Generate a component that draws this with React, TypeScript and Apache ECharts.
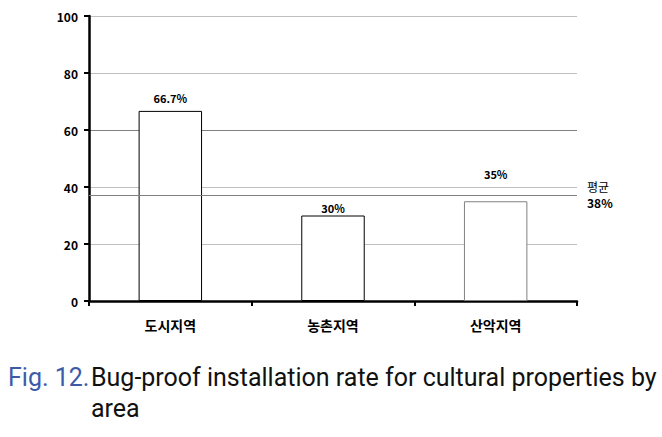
import React, { useEffect, useRef } from "react";
import * as echarts from "echarts";

const categories = ["도시지역", "농촌지역", "산악지역"];
const values = [66.7, 30, 35];
const valueLabels = ["66.7%", "30%", "35%"];
const labelDistances = [7, 2, 22];
const barBorderColors = ["#000000", "#000000", "#808080"];
const averageValue = 37.2;
const averageLabel = ["평균", "38%"];
const yTicks = [0, 20, 40, 60, 80, 100];
const captionPrefix = "Fig. 12.";
const captionLines = ["Bug-proof installation rate for cultural properties by", "area"];

export default function App() {
  const ref = useRef<HTMLDivElement>(null);
  useEffect(() => {
    if (!ref.current) return;
    const chart = echarts.init(ref.current, null, { renderer: "svg" });
    const font = "'Noto Sans CJK KR', 'Noto Sans', sans-serif";
    chart.setOption({
      animation: false,
      backgroundColor: "#ffffff",
      grid: { left: 89, right: 85, top: 16, bottom: 136 },
      xAxis: {
        type: "category",
        data: categories,
        axisLine: { lineStyle: { color: "#000", width: 2.5 } },
        axisTick: { show: true, length: 5, lineStyle: { color: "#000", width: 2 } },
        axisLabel: { color: "#000", fontSize: 14, fontWeight: "bold", fontFamily: font, margin: 17 },
      },
      yAxis: {
        type: "value",
        min: yTicks[0],
        max: yTicks[yTicks.length - 1],
        interval: 20,
        axisLine: { show: true, lineStyle: { color: "#000", width: 2.5 } },
        axisTick: { show: true, length: 5, lineStyle: { color: "#000", width: 2 } },
        axisLabel: { color: "#000", fontSize: 12, fontWeight: "bold", fontFamily: font, margin: 11 },
        splitLine: {
          lineStyle: {
            color: ["#c0c0c0", "#c0c0c0", "#c0c0c0", "#808080", "#c0c0c0", "#c0c0c0"],
            width: 1,
          },
        },
      },
      series: [
        {
          type: "bar",
          barCategoryGap: "61%",
          data: values.map((v, i) => ({
            value: v,
            itemStyle: { color: "#ffffff", borderColor: barBorderColors[i], borderWidth: 1 },
            label: {
              show: true,
              position: "top",
              distance: labelDistances[i],
              formatter: valueLabels[i],
              color: "#000",
              fontSize: 11,
              fontWeight: "bold",
              fontFamily: font,
            },
          })),
          markLine: {
            silent: true,
            symbol: "none",
            lineStyle: { color: "#808080", type: "solid", width: 1 },
            label: {
              show: true,
              position: "end",
              distance: 10,
              formatter: "{a|" + averageLabel[0] + "}\n{b|" + averageLabel[1] + "}",
              rich: {
                a: { fontSize: 12, color: "#000", fontFamily: font, lineHeight: 16 },
                b: { fontSize: 12, color: "#000", fontWeight: "bold", fontFamily: font, lineHeight: 16 },
              },
            },
            data: [{ yAxis: averageValue }],
          },
        },
      ],
      graphic: [
        {
          type: "text",
          left: 8,
          top: 362,
          style: {
            text: captionPrefix,
            fontSize: 25,
            lineHeight: 31,
            fill: "#3b5ba8",
            fontFamily: "Roboto, sans-serif",
          },
        },
        {
          type: "text",
          left: 91,
          top: 362,
          style: {
            text: captionLines.join("\n"),
            fontSize: 25,
            lineHeight: 31,
            fill: "#111",
            fontFamily: "Roboto, sans-serif",
          },
        },
      ],
    });
    return () => chart.dispose();
  }, []);
  return <div ref={ref} style={{ position: "absolute", left: 0, top: 0, width: 662, height: 437 }} />;
}
